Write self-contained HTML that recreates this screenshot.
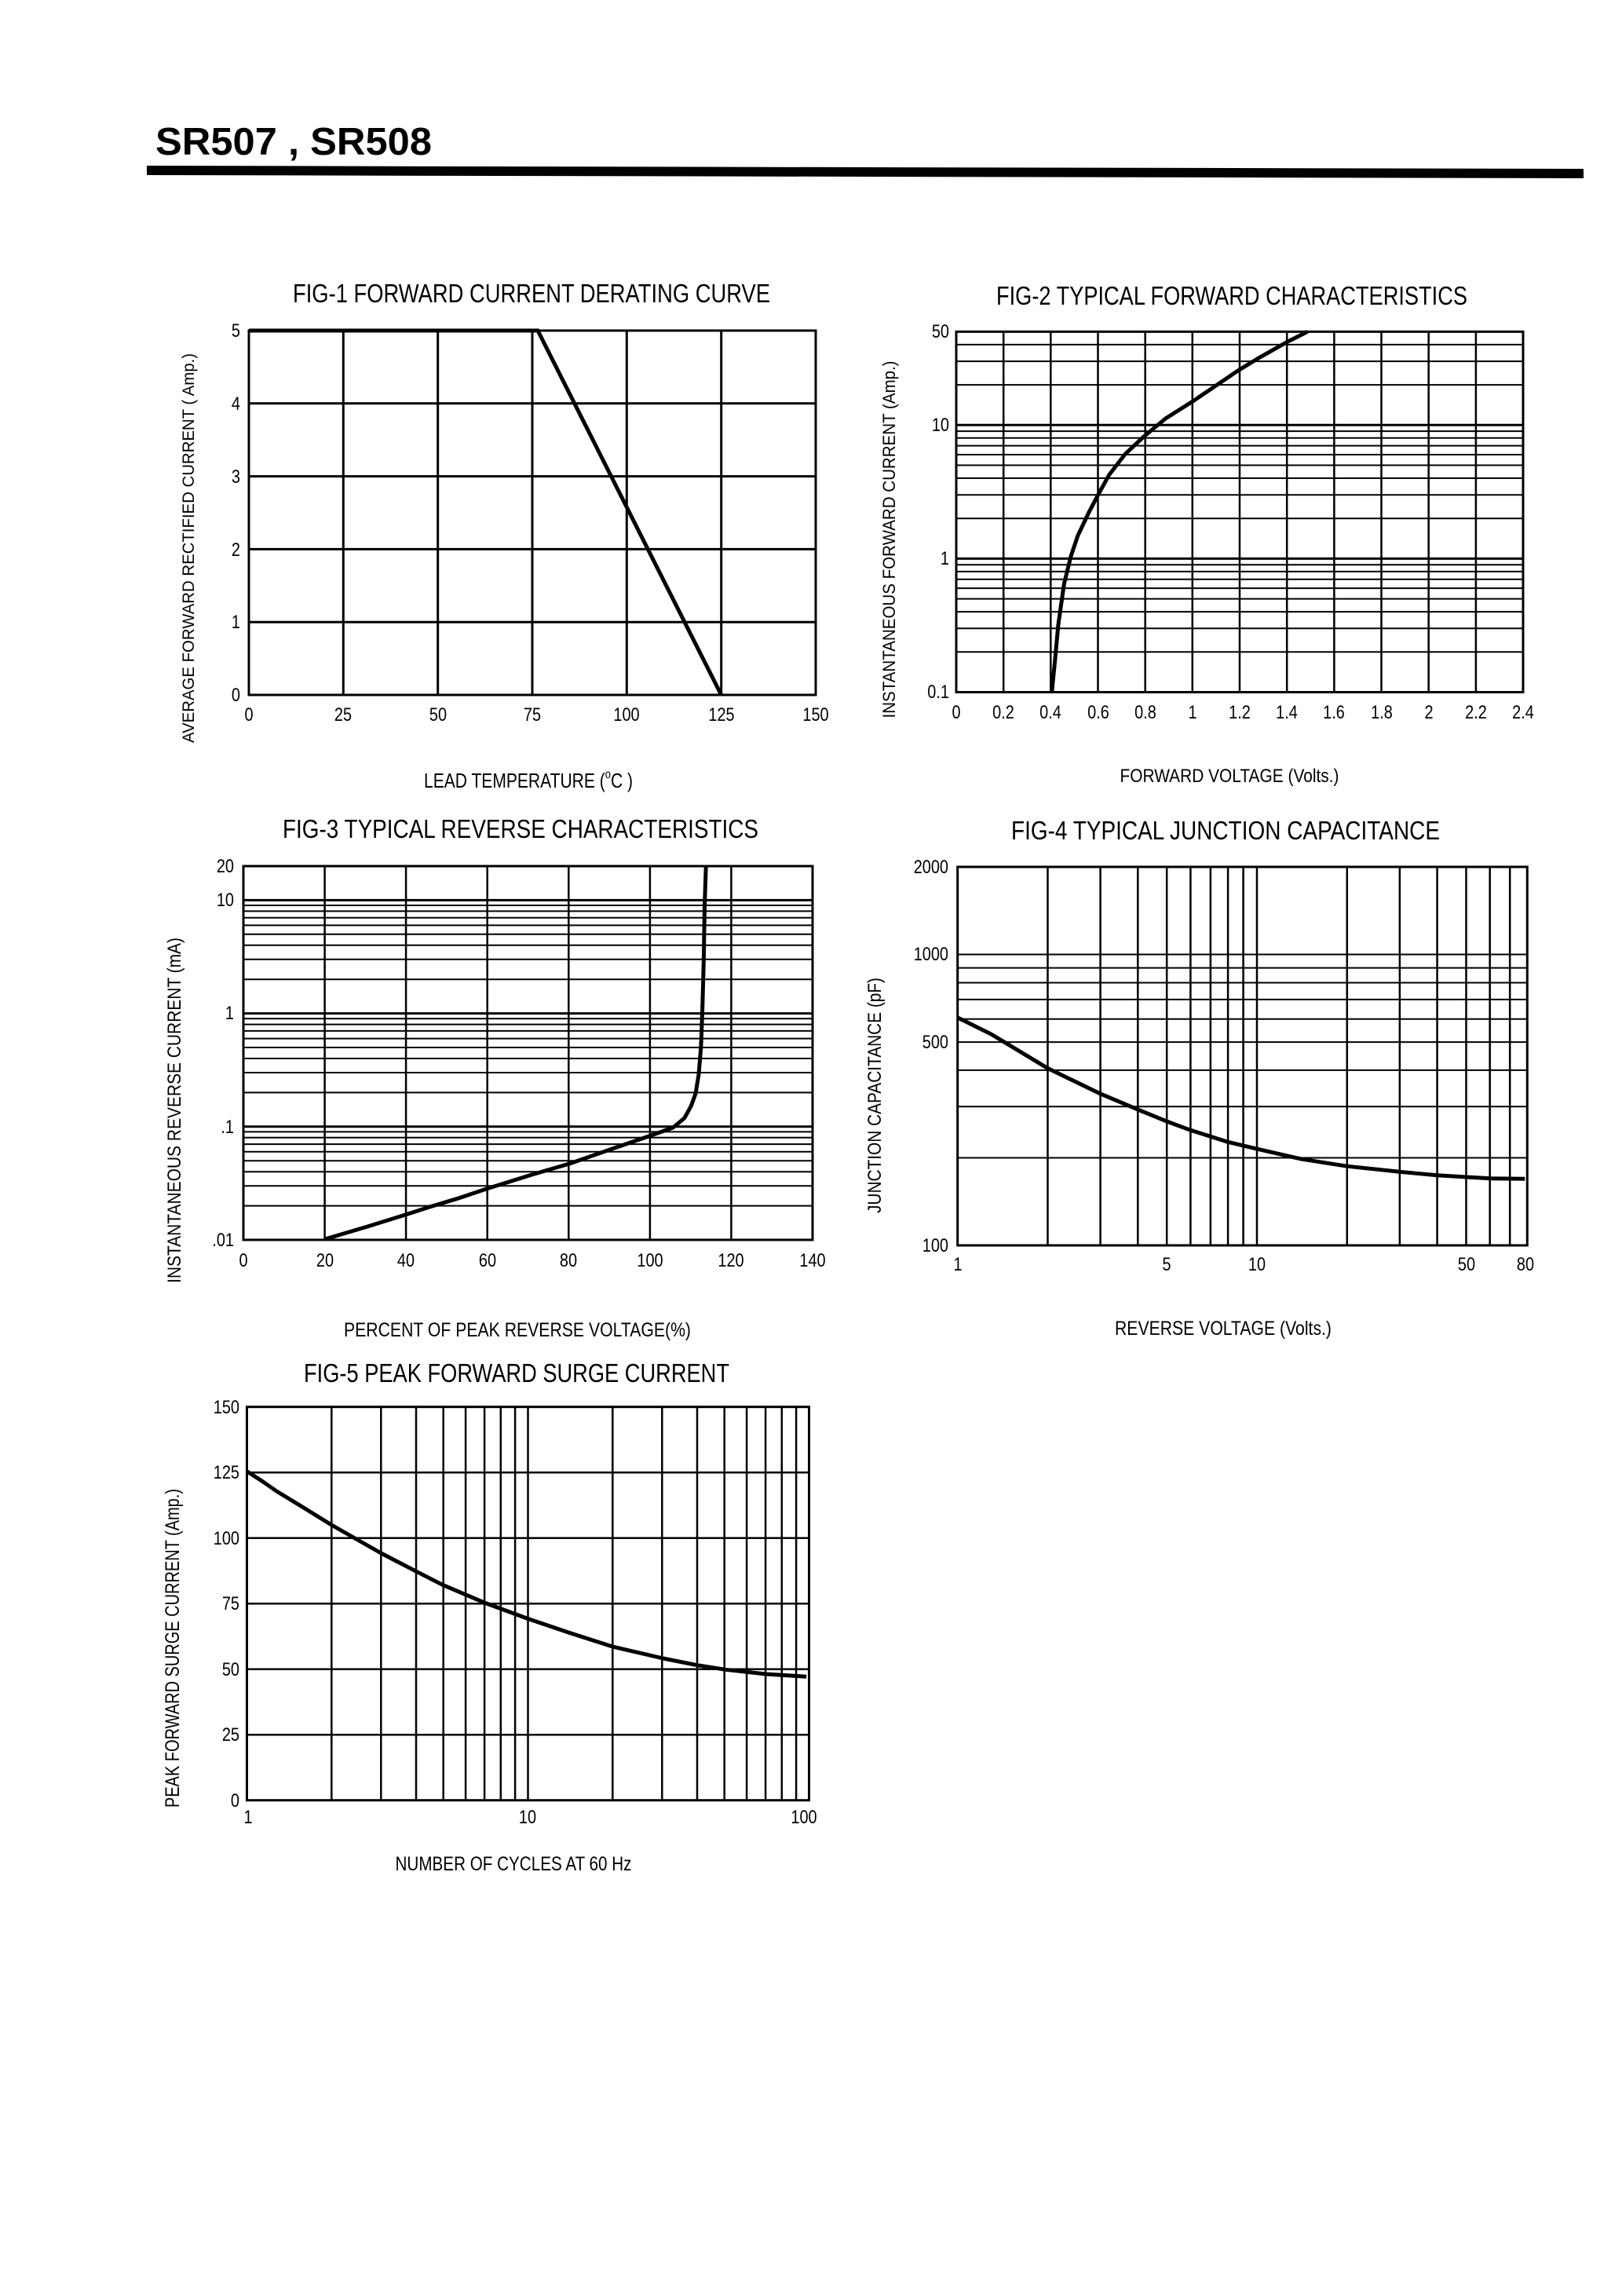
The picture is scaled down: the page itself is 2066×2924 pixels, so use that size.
<!DOCTYPE html>
<html>
<head>
<meta charset="utf-8">
<style>
html,body{margin:0;padding:0;background:#fff;}
svg{display:block;}
text{font-family:"Liberation Sans",Arial,sans-serif;fill:#000;}
</style>
</head>
<body>
<svg width="2066" height="2924" viewBox="0 0 2066 2924" xmlns="http://www.w3.org/2000/svg">
<rect width="2066" height="2924" fill="#fff"/>

<!-- Header -->
<text x="198" y="197" font-size="49" font-weight="bold" textLength="352" lengthAdjust="spacingAndGlyphs">SR507 , SR508</text>
<polygon points="187,211 2017,215 2017,227 187,223" fill="#000"/>

<!-- ================= FIG 1 ================= -->
<text x="677" y="385" font-size="33" text-anchor="middle" textLength="608" lengthAdjust="spacingAndGlyphs">FIG-1 FORWARD CURRENT DERATING CURVE</text>
<g stroke="#000" fill="none" stroke-width="3">
<rect x="317" y="421" width="722" height="464"/>
<line x1="437.3" y1="421" x2="437.3" y2="885"/>
<line x1="557.7" y1="421" x2="557.7" y2="885"/>
<line x1="678" y1="421" x2="678" y2="885"/>
<line x1="798.3" y1="421" x2="798.3" y2="885"/>
<line x1="918.7" y1="421" x2="918.7" y2="885"/>
<line x1="317" y1="513.8" x2="1039" y2="513.8"/>
<line x1="317" y1="606.6" x2="1039" y2="606.6"/>
<line x1="317" y1="699.4" x2="1039" y2="699.4"/>
<line x1="317" y1="792.2" x2="1039" y2="792.2"/>
<polyline points="317,421 685,421 918.7,885" stroke-width="5"/>
</g>
<g font-size="24">
<text transform="translate(306,429) scale(.83,1)" text-anchor="end">5</text>
<text transform="translate(306,522) scale(.83,1)" text-anchor="end">4</text>
<text transform="translate(306,615) scale(.83,1)" text-anchor="end">3</text>
<text transform="translate(306,708) scale(.83,1)" text-anchor="end">2</text>
<text transform="translate(306,800) scale(.83,1)" text-anchor="end">1</text>
<text transform="translate(306,893) scale(.83,1)" text-anchor="end">0</text>
<text transform="translate(317,918) scale(.83,1)" text-anchor="middle">0</text>
<text transform="translate(437,918) scale(.83,1)" text-anchor="middle">25</text>
<text transform="translate(558,918) scale(.83,1)" text-anchor="middle">50</text>
<text transform="translate(678,918) scale(.83,1)" text-anchor="middle">75</text>
<text transform="translate(798,918) scale(.83,1)" text-anchor="middle">100</text>
<text transform="translate(919,918) scale(.83,1)" text-anchor="middle">125</text>
<text transform="translate(1039,918) scale(.83,1)" text-anchor="middle">150</text>
</g>
<text transform="translate(247,698) rotate(-90)" font-size="21" text-anchor="middle" textLength="496" lengthAdjust="spacingAndGlyphs">AVERAGE FORWARD RECTIFIED CURRENT ( Amp.)</text>
<text transform="translate(673,1003) scale(.81,1)" font-size="26" text-anchor="middle">LEAD TEMPERATURE (<tspan font-size="16" dy="-12">o</tspan><tspan dy="12">C )</tspan></text>

<!-- ================= FIG 2 ================= -->
<text x="1569" y="388" font-size="33" text-anchor="middle" textLength="600" lengthAdjust="spacingAndGlyphs">FIG-2 TYPICAL FORWARD CHARACTERISTICS</text>
<g stroke="#000" fill="none" stroke-width="2.5">
<rect x="1218" y="422.4" width="722" height="459.1" stroke-width="3"/>
<line x1="1278.2" y1="422.4" x2="1278.2" y2="881.5"/>
<line x1="1338.3" y1="422.4" x2="1338.3" y2="881.5"/>
<line x1="1398.5" y1="422.4" x2="1398.5" y2="881.5"/>
<line x1="1458.7" y1="422.4" x2="1458.7" y2="881.5"/>
<line x1="1518.8" y1="422.4" x2="1518.8" y2="881.5"/>
<line x1="1579" y1="422.4" x2="1579" y2="881.5"/>
<line x1="1639.2" y1="422.4" x2="1639.2" y2="881.5"/>
<line x1="1699.4" y1="422.4" x2="1699.4" y2="881.5"/>
<line x1="1759.5" y1="422.4" x2="1759.5" y2="881.5"/>
<line x1="1819.7" y1="422.4" x2="1819.7" y2="881.5"/>
<line x1="1879.9" y1="422.4" x2="1879.9" y2="881.5"/>
<g stroke-width="2">
<line x1="1218" y1="830.3" x2="1940" y2="830.3"/>
<line x1="1218" y1="800.3" x2="1940" y2="800.3"/>
<line x1="1218" y1="779.1" x2="1940" y2="779.1"/>
<line x1="1218" y1="762.6" x2="1940" y2="762.6"/>
<line x1="1218" y1="749.1" x2="1940" y2="749.1"/>
<line x1="1218" y1="737.7" x2="1940" y2="737.7"/>
<line x1="1218" y1="727.9" x2="1940" y2="727.9"/>
<line x1="1218" y1="719.2" x2="1940" y2="719.2"/>
<line x1="1218" y1="711.4" x2="1940" y2="711.4" stroke-width="3"/>
<line x1="1218" y1="660.2" x2="1940" y2="660.2"/>
<line x1="1218" y1="630.2" x2="1940" y2="630.2"/>
<line x1="1218" y1="609.0" x2="1940" y2="609.0"/>
<line x1="1218" y1="592.5" x2="1940" y2="592.5"/>
<line x1="1218" y1="579.0" x2="1940" y2="579.0"/>
<line x1="1218" y1="567.6" x2="1940" y2="567.6"/>
<line x1="1218" y1="557.8" x2="1940" y2="557.8"/>
<line x1="1218" y1="549.1" x2="1940" y2="549.1"/>
<line x1="1218" y1="541.3" x2="1940" y2="541.3" stroke-width="3"/>
<line x1="1218" y1="490.1" x2="1940" y2="490.1"/>
<line x1="1218" y1="460.1" x2="1940" y2="460.1"/>
<line x1="1218" y1="438.9" x2="1940" y2="438.9"/>
</g>
<polyline stroke-width="5" stroke-linejoin="round" points="1339.9,880 1344,838.8 1348,795.4 1355.4,743.3 1364,708.6 1372.7,682.6 1387,652.3 1398.5,630.6 1412.8,604.6 1433,578.5 1455.9,556.9 1484.6,533 1519,511.3 1547.7,491.8 1576.4,472.3 1605,454.9 1639.6,435.4 1665.4,422.4"/>
</g>
<g font-size="24">
<text transform="translate(1209,430) scale(.83,1)" text-anchor="end">50</text>
<text transform="translate(1209,549) scale(.83,1)" text-anchor="end">10</text>
<text transform="translate(1209,719) scale(.83,1)" text-anchor="end">1</text>
<text transform="translate(1209,889) scale(.83,1)" text-anchor="end">0.1</text>
<text transform="translate(1218,915) scale(.83,1)" text-anchor="middle">0</text>
<text transform="translate(1278,915) scale(.83,1)" text-anchor="middle">0.2</text>
<text transform="translate(1338,915) scale(.83,1)" text-anchor="middle">0.4</text>
<text transform="translate(1399,915) scale(.83,1)" text-anchor="middle">0.6</text>
<text transform="translate(1459,915) scale(.83,1)" text-anchor="middle">0.8</text>
<text transform="translate(1519,915) scale(.83,1)" text-anchor="middle">1</text>
<text transform="translate(1579,915) scale(.83,1)" text-anchor="middle">1.2</text>
<text transform="translate(1639,915) scale(.83,1)" text-anchor="middle">1.4</text>
<text transform="translate(1699,915) scale(.83,1)" text-anchor="middle">1.6</text>
<text transform="translate(1760,915) scale(.83,1)" text-anchor="middle">1.8</text>
<text transform="translate(1820,915) scale(.83,1)" text-anchor="middle">2</text>
<text transform="translate(1880,915) scale(.83,1)" text-anchor="middle">2.2</text>
<text transform="translate(1940,915) scale(.83,1)" text-anchor="middle">2.4</text>
</g>
<text transform="translate(1140,687) rotate(-90)" font-size="22" text-anchor="middle" textLength="455" lengthAdjust="spacingAndGlyphs">INSTANTANEOUS FORWARD CURRENT (Amp.)</text>
<text x="1566" y="996" font-size="24" text-anchor="middle" textLength="279" lengthAdjust="spacingAndGlyphs">FORWARD VOLTAGE (Volts.)</text>

<!-- ================= FIG 3 ================= -->
<text x="663" y="1067" font-size="33" text-anchor="middle" textLength="606" lengthAdjust="spacingAndGlyphs">FIG-3 TYPICAL REVERSE CHARACTERISTICS</text>
<g stroke="#000" fill="none" stroke-width="2.5">
<rect x="310" y="1103" width="725" height="476" stroke-width="3"/>
<line x1="413.6" y1="1103" x2="413.6" y2="1579"/>
<line x1="517.1" y1="1103" x2="517.1" y2="1579"/>
<line x1="620.7" y1="1103" x2="620.7" y2="1579"/>
<line x1="724.3" y1="1103" x2="724.3" y2="1579"/>
<line x1="827.9" y1="1103" x2="827.9" y2="1579"/>
<line x1="931.4" y1="1103" x2="931.4" y2="1579"/>
<g stroke-width="2">
<line x1="310" y1="1535.6" x2="1035" y2="1535.6"/>
<line x1="310" y1="1510.2" x2="1035" y2="1510.2"/>
<line x1="310" y1="1492.2" x2="1035" y2="1492.2"/>
<line x1="310" y1="1478.2" x2="1035" y2="1478.2"/>
<line x1="310" y1="1466.8" x2="1035" y2="1466.8"/>
<line x1="310" y1="1457.1" x2="1035" y2="1457.1"/>
<line x1="310" y1="1448.8" x2="1035" y2="1448.8"/>
<line x1="310" y1="1441.4" x2="1035" y2="1441.4"/>
<line x1="310" y1="1434.8" x2="1035" y2="1434.8" stroke-width="3"/>
<line x1="310" y1="1391.4" x2="1035" y2="1391.4"/>
<line x1="310" y1="1366" x2="1035" y2="1366"/>
<line x1="310" y1="1348" x2="1035" y2="1348"/>
<line x1="310" y1="1334" x2="1035" y2="1334"/>
<line x1="310" y1="1322.6" x2="1035" y2="1322.6"/>
<line x1="310" y1="1312.9" x2="1035" y2="1312.9"/>
<line x1="310" y1="1304.6" x2="1035" y2="1304.6"/>
<line x1="310" y1="1297.2" x2="1035" y2="1297.2"/>
<line x1="310" y1="1290.6" x2="1035" y2="1290.6" stroke-width="3"/>
<line x1="310" y1="1247.2" x2="1035" y2="1247.2"/>
<line x1="310" y1="1221.8" x2="1035" y2="1221.8"/>
<line x1="310" y1="1203.8" x2="1035" y2="1203.8"/>
<line x1="310" y1="1189.8" x2="1035" y2="1189.8"/>
<line x1="310" y1="1178.4" x2="1035" y2="1178.4"/>
<line x1="310" y1="1168.7" x2="1035" y2="1168.7"/>
<line x1="310" y1="1160.4" x2="1035" y2="1160.4"/>
<line x1="310" y1="1153" x2="1035" y2="1153"/>
<line x1="310" y1="1146.4" x2="1035" y2="1146.4" stroke-width="3"/>
</g>
<polyline stroke-width="5" stroke-linejoin="round" points="414.2,1578 467,1562.4 512.9,1548.1 547.4,1537 581.8,1526.7 622,1513.3 679.4,1495.4 725.3,1482 782.7,1462 828.6,1446.3 857.3,1436 871.7,1424 880.3,1408.4 886,1392.7 890,1368.2 892.9,1332.5 894.6,1287.8 896.4,1220.9 897.5,1153.9 899.2,1103"/>
</g>
<g font-size="24">
<text transform="translate(298,1111) scale(.83,1)" text-anchor="end">20</text>
<text transform="translate(298,1154) scale(.83,1)" text-anchor="end">10</text>
<text transform="translate(298,1298) scale(.83,1)" text-anchor="end">1</text>
<text transform="translate(298,1443) scale(.83,1)" text-anchor="end">.1</text>
<text transform="translate(298,1587) scale(.83,1)" text-anchor="end">.01</text>
<text transform="translate(310,1613) scale(.83,1)" text-anchor="middle">0</text>
<text transform="translate(414,1613) scale(.83,1)" text-anchor="middle">20</text>
<text transform="translate(517,1613) scale(.83,1)" text-anchor="middle">40</text>
<text transform="translate(621,1613) scale(.83,1)" text-anchor="middle">60</text>
<text transform="translate(724,1613) scale(.83,1)" text-anchor="middle">80</text>
<text transform="translate(828,1613) scale(.83,1)" text-anchor="middle">100</text>
<text transform="translate(931,1613) scale(.83,1)" text-anchor="middle">120</text>
<text transform="translate(1035,1613) scale(.83,1)" text-anchor="middle">140</text>
</g>
<text transform="translate(230,1414) rotate(-90)" font-size="24" text-anchor="middle" textLength="440" lengthAdjust="spacingAndGlyphs">INSTANTANEOUS REVERSE CURRENT (mA)</text>
<text x="659" y="1702" font-size="25" text-anchor="middle" textLength="442" lengthAdjust="spacingAndGlyphs">PERCENT OF PEAK REVERSE VOLTAGE(%)</text>

<!-- ================= FIG 4 ================= -->
<text x="1561" y="1069" font-size="33" text-anchor="middle" textLength="546" lengthAdjust="spacingAndGlyphs">FIG-4 TYPICAL JUNCTION CAPACITANCE</text>
<g stroke="#000" fill="none" stroke-width="2.5">
<rect x="1219.7" y="1104" width="725.6" height="482" stroke-width="3"/>
<line x1="1334.5" y1="1104" x2="1334.5" y2="1586"/>
<line x1="1401.6" y1="1104" x2="1401.6" y2="1586"/>
<line x1="1449.3" y1="1104" x2="1449.3" y2="1586"/>
<line x1="1486.2" y1="1104" x2="1486.2" y2="1586"/>
<line x1="1516.4" y1="1104" x2="1516.4" y2="1586"/>
<line x1="1541.9" y1="1104" x2="1541.9" y2="1586"/>
<line x1="1564.1" y1="1104" x2="1564.1" y2="1586"/>
<line x1="1583.6" y1="1104" x2="1583.6" y2="1586"/>
<line x1="1601" y1="1104" x2="1601" y2="1586"/>
<line x1="1715.8" y1="1104" x2="1715.8" y2="1586"/>
<line x1="1782.9" y1="1104" x2="1782.9" y2="1586"/>
<line x1="1830.6" y1="1104" x2="1830.6" y2="1586"/>
<line x1="1867.5" y1="1104" x2="1867.5" y2="1586"/>
<line x1="1897.7" y1="1104" x2="1897.7" y2="1586"/>
<line x1="1923.2" y1="1104" x2="1923.2" y2="1586"/>
<g stroke-width="2">
<line x1="1219.7" y1="1474.5" x2="1945.3" y2="1474.5"/>
<line x1="1219.7" y1="1409.2" x2="1945.3" y2="1409.2"/>
<line x1="1219.7" y1="1362.9" x2="1945.3" y2="1362.9"/>
<line x1="1219.7" y1="1327.1" x2="1945.3" y2="1327.1"/>
<line x1="1219.7" y1="1297.7" x2="1945.3" y2="1297.7"/>
<line x1="1219.7" y1="1272.9" x2="1945.3" y2="1272.9"/>
<line x1="1219.7" y1="1251.5" x2="1945.3" y2="1251.5"/>
<line x1="1219.7" y1="1232.6" x2="1945.3" y2="1232.6"/>
<line x1="1219.7" y1="1215.5" x2="1945.3" y2="1215.5"/>
</g>
<polyline stroke-width="5" stroke-linejoin="round" points="1219.7,1295.9 1262.2,1316.9 1334,1360.2 1401.1,1392.7 1448.8,1412.8 1484.9,1427.6 1514.8,1438.7 1562.4,1453.9 1599.7,1462.8 1658.3,1476.2 1715.7,1485.2 1782.8,1492.3 1830.5,1496.8 1867.8,1499 1898.2,1500.8 1942.4,1501.2"/>
</g>
<g font-size="24">
<text transform="translate(1208,1112) scale(.83,1)" text-anchor="end">2000</text>
<text transform="translate(1208,1223) scale(.83,1)" text-anchor="end">1000</text>
<text transform="translate(1208,1335) scale(.83,1)" text-anchor="end">500</text>
<text transform="translate(1208,1594) scale(.83,1)" text-anchor="end">100</text>
<text transform="translate(1220,1618) scale(.83,1)" text-anchor="middle">1</text>
<text transform="translate(1486,1618) scale(.83,1)" text-anchor="middle">5</text>
<text transform="translate(1601,1618) scale(.83,1)" text-anchor="middle">10</text>
<text transform="translate(1868,1618) scale(.83,1)" text-anchor="middle">50</text>
<text transform="translate(1943,1618) scale(.83,1)" text-anchor="middle">80</text>
</g>
<text transform="translate(1122,1395) rotate(-90)" font-size="24" text-anchor="middle" textLength="300" lengthAdjust="spacingAndGlyphs">JUNCTION CAPACITANCE (pF)</text>
<text x="1558" y="1700" font-size="25" text-anchor="middle" textLength="276" lengthAdjust="spacingAndGlyphs">REVERSE VOLTAGE (Volts.)</text>

<!-- ================= FIG 5 ================= -->
<text x="658" y="1760" font-size="33" text-anchor="middle" textLength="542" lengthAdjust="spacingAndGlyphs">FIG-5 PEAK FORWARD SURGE CURRENT</text>
<g stroke="#000" fill="none" stroke-width="2.5">
<rect x="314.5" y="1791.7" width="716" height="501" stroke-width="3"/>
<line x1="422.3" y1="1791.7" x2="422.3" y2="2292.7"/>
<line x1="485.3" y1="1791.7" x2="485.3" y2="2292.7"/>
<line x1="530" y1="1791.7" x2="530" y2="2292.7"/>
<line x1="564.7" y1="1791.7" x2="564.7" y2="2292.7"/>
<line x1="593.1" y1="1791.7" x2="593.1" y2="2292.7"/>
<line x1="617.1" y1="1791.7" x2="617.1" y2="2292.7"/>
<line x1="637.8" y1="1791.7" x2="637.8" y2="2292.7"/>
<line x1="656.1" y1="1791.7" x2="656.1" y2="2292.7"/>
<line x1="672.5" y1="1791.7" x2="672.5" y2="2292.7"/>
<line x1="780.3" y1="1791.7" x2="780.3" y2="2292.7"/>
<line x1="843.3" y1="1791.7" x2="843.3" y2="2292.7"/>
<line x1="888" y1="1791.7" x2="888" y2="2292.7"/>
<line x1="922.7" y1="1791.7" x2="922.7" y2="2292.7"/>
<line x1="951.1" y1="1791.7" x2="951.1" y2="2292.7"/>
<line x1="975.1" y1="1791.7" x2="975.1" y2="2292.7"/>
<line x1="995.8" y1="1791.7" x2="995.8" y2="2292.7"/>
<line x1="1014.1" y1="1791.7" x2="1014.1" y2="2292.7"/>
<line x1="314.5" y1="1875.2" x2="1030.5" y2="1875.2"/>
<line x1="314.5" y1="1958.7" x2="1030.5" y2="1958.7"/>
<line x1="314.5" y1="2042.2" x2="1030.5" y2="2042.2"/>
<line x1="314.5" y1="2125.7" x2="1030.5" y2="2125.7"/>
<line x1="314.5" y1="2209.2" x2="1030.5" y2="2209.2"/>
<polyline stroke-width="5" stroke-linejoin="round" points="314.9,1874 335,1887 352.2,1899 385,1919 422.2,1942 485.4,1978 530.1,2001.2 563.4,2018.2 618,2041.4 672.5,2061.5 725.3,2079.4 781,2097.2 844.7,2112 889.5,2120.9 923.3,2126.2 976.1,2132 1027.2,2135.2"/>
</g>
<g font-size="24">
<text transform="translate(305,1800) scale(.83,1)" text-anchor="end">150</text>
<text transform="translate(305,1883) scale(.83,1)" text-anchor="end">125</text>
<text transform="translate(305,1967) scale(.83,1)" text-anchor="end">100</text>
<text transform="translate(305,2050) scale(.83,1)" text-anchor="end">75</text>
<text transform="translate(305,2134) scale(.83,1)" text-anchor="end">50</text>
<text transform="translate(305,2217) scale(.83,1)" text-anchor="end">25</text>
<text transform="translate(305,2301) scale(.83,1)" text-anchor="end">0</text>
<text transform="translate(316,2322) scale(.83,1)" text-anchor="middle">1</text>
<text transform="translate(672,2322) scale(.83,1)" text-anchor="middle">10</text>
<text transform="translate(1024,2322) scale(.83,1)" text-anchor="middle">100</text>
</g>
<text transform="translate(228,2099) rotate(-90)" font-size="25" text-anchor="middle" textLength="406" lengthAdjust="spacingAndGlyphs">PEAK FORWARD SURGE CURRENT (Amp.)</text>
<text x="654" y="2382" font-size="25" text-anchor="middle" textLength="301" lengthAdjust="spacingAndGlyphs">NUMBER OF CYCLES AT 60 Hz</text>

</svg>
</body>
</html>
